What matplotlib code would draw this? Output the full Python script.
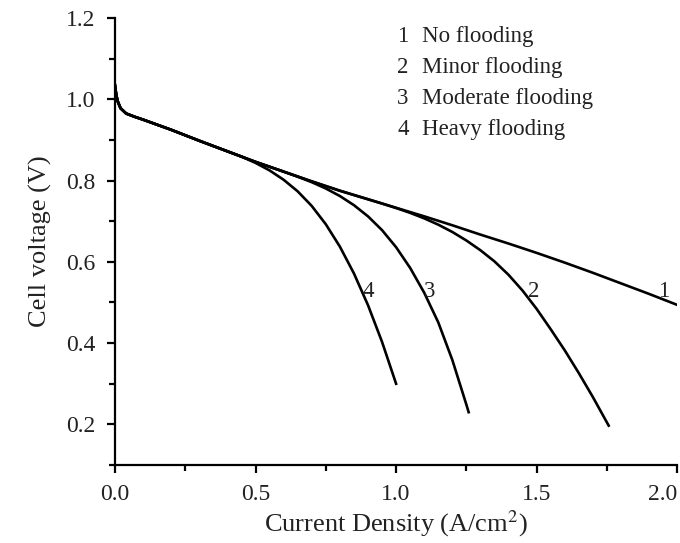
import numpy as np
import matplotlib
matplotlib.use("Agg")
import matplotlib.pyplot as plt
from matplotlib.ticker import MultipleLocator

# polarization curves (x in A/cm2, y in V)
# common part of all four curves
base_x = [0.0, 0.005, 0.01, 0.02, 0.04, 0.07, 0.1, 0.2, 0.3, 0.4, 0.45]
base_y = [1.035, 1.01, 0.995, 0.978, 0.965, 0.957, 0.95, 0.925, 0.898, 0.872, 0.859]

# 1 no flooding
no_flood_x = [0.5, 0.6, 0.7, 0.8, 0.9, 1.0, 1.1, 1.2, 1.3, 1.4, 1.5, 1.6, 1.7, 1.8, 1.9, 2.0]
no_flood_y = [0.846, 0.822, 0.798, 0.775, 0.754, 0.733, 0.712, 0.69, 0.667, 0.645, 0.622,
              0.598, 0.573, 0.547, 0.521, 0.494]

# 2 minor flooding (leaves curve 1 after 0.9)
minor_x = [0.95, 1.0, 1.05, 1.1, 1.15, 1.2, 1.25, 1.3, 1.35, 1.4, 1.45, 1.5, 1.55,
           1.6, 1.65, 1.7, 1.75, 1.756]
minor_y = [0.7435, 0.7325, 0.7205, 0.707, 0.6915, 0.6735, 0.6525, 0.6285, 0.601, 0.568,
           0.529, 0.484, 0.434, 0.382, 0.326, 0.267, 0.2045, 0.197]

# 3 moderate flooding (leaves curve 1 after 0.6)
moderate_x = [0.65, 0.7, 0.75, 0.8, 0.85, 0.9, 0.95, 1.0, 1.05, 1.1, 1.15, 1.2, 1.25, 1.258]
moderate_y = [0.8095, 0.796, 0.7805, 0.762, 0.7395, 0.712, 0.678, 0.636, 0.585, 0.524,
              0.451, 0.3585, 0.2485, 0.230]

# 4 heavy flooding (leaves curve 1 after 0.45)
heavy_x = [0.5, 0.55, 0.6, 0.65, 0.7, 0.75, 0.8, 0.85, 0.9, 0.95, 1.0]
heavy_y = [0.8435, 0.825, 0.802, 0.7735, 0.7375, 0.6925, 0.6375, 0.5715, 0.4935, 0.403, 0.30]

legend_labels = ["No flooding", "Minor flooding", "Moderate flooding", "Heavy flooding"]
curve_tags = ["1", "2", "3", "4"]
tag_x = [1.95, 1.49, 1.12, 0.90]
tag_y = 0.526

plt.rcParams['font.family'] = ['Liberation Serif', 'DejaVu Serif']
plt.rcParams['mathtext.fontset'] = 'stix'
txt_color = '#222222'

fig = plt.figure(figsize=(6.8, 5.43), dpi=100)
ax = fig.add_axes([0.169, 0.1436, 0.827, 0.8232])

lw = 1.9
nfx = np.array(no_flood_x)
nfy = np.array(no_flood_y)

# curve 1
ax.plot(base_x + no_flood_x, base_y + no_flood_y, color='black', lw=lw)
# curve 2
ax.plot(base_x + list(nfx[nfx <= 0.9]) + minor_x,
        base_y + list(nfy[nfx <= 0.9]) + minor_y, color='black', lw=lw)
# curve 3
ax.plot(base_x + list(nfx[nfx <= 0.6]) + moderate_x,
        base_y + list(nfy[nfx <= 0.6]) + moderate_y, color='black', lw=lw)
# curve 4
ax.plot(base_x + heavy_x, base_y + heavy_y, color='black', lw=lw)

for t, xx in zip(curve_tags, tag_x):
    ax.text(xx, tag_y, t, ha='center', va='center', fontsize=16.5, color=txt_color)

# legend is plain text in the original
for i, (t, lab) in enumerate(zip(curve_tags, legend_labels)):
    yy = 0.932 - i * 0.057
    fig.text(0.584, yy, t, ha='left', va='center', fontsize=16.5, color=txt_color)
    fig.text(0.62, yy, lab, ha='left', va='center', fontsize=16.5, color=txt_color)

ax.set_xlim(0, 2.0)
ax.set_ylim(0.1, 1.2)
xt = [0.0, 0.5, 1.0, 1.5, 2.0]
yt = [0.2, 0.4, 0.6, 0.8, 1.0, 1.2]
ax.set_xticks(xt)
ax.set_xticklabels(['%.1f' % v for v in xt])
ax.set_yticks(yt)
ax.set_yticklabels(['%.1f' % v for v in yt])
ax.xaxis.set_minor_locator(MultipleLocator(0.25))
ax.yaxis.set_minor_locator(MultipleLocator(0.1))
ax.get_xticklabels()[-1].set_horizontalalignment('right')

for s in ['top', 'right']:
    ax.spines[s].set_visible(False)
for s in ['left', 'bottom']:
    ax.spines[s].set_linewidth(1.6)

ax.tick_params(which='major', direction='out', length=6, width=1.6,
               labelsize=17, labelcolor=txt_color, pad=8)
ax.tick_params(which='minor', direction='out', length=4, width=1.6)

ax.set_xlabel('Current Density (A/cm$^2$)', fontsize=19, color=txt_color, labelpad=2)
ax.set_ylabel('Cell voltage (V)', fontsize=19, color=txt_color, labelpad=10)

fig.savefig('out.png', dpi=100)
